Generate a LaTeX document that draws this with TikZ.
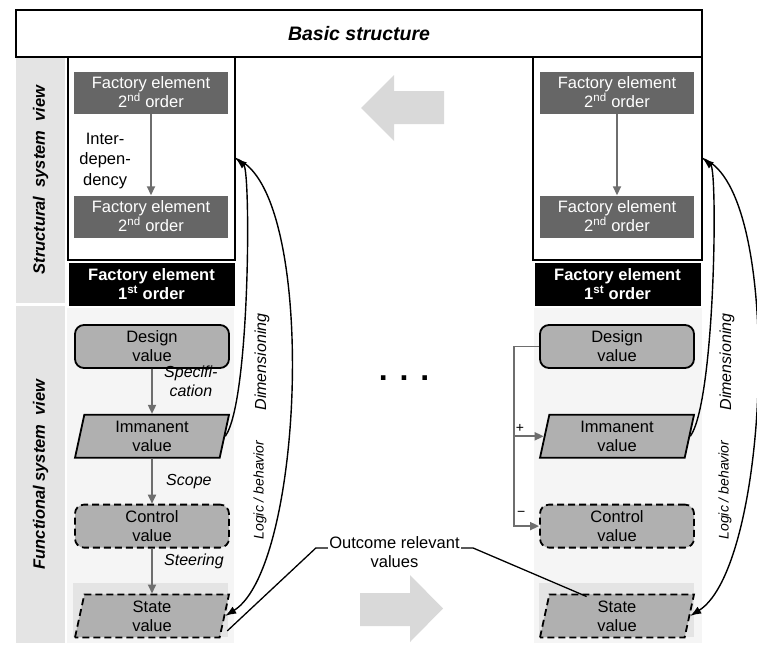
\documentclass[tikz,border=0pt]{standalone}
\usepackage{fontspec}
\setmainfont{Liberation Sans}
\usepackage{tikz}
\usetikzlibrary{arrows.meta,positioning,calc,shapes.geometric}
\definecolor{BandGray}{HTML}{E4E4E4}
\definecolor{StripGray}{HTML}{F5F5F5}
\definecolor{FocusGray}{HTML}{E4E4E4}
\definecolor{ElemGray}{HTML}{666666}
\definecolor{ValueGray}{HTML}{B0B0B0}
\definecolor{LinkGray}{HTML}{6E6E6E}
\definecolor{ArrowGray}{HTML}{D9D9D9}

\begin{document}
\begin{tikzpicture}[x=1pt,y=-1pt,node distance=45pt,
  every node/.style={font=\fontsize{16.5}{19}\selectfont},
  band/.style={fill=BandGray,rotate=90,font=\fontsize{16.5}{20}\selectfont\bfseries\itshape},
  elemtwo/.style={fill=ElemGray,text=white,minimum width=154pt,minimum height=42pt,align=center,inner sep=1pt},
  elemone/.style={fill=black,text=white,minimum width=166pt,minimum height=43pt,align=center,inner sep=1pt,
    font=\fontsize{16.5}{19}\selectfont\bfseries},
  sysframe/.style={draw,line width=1.5pt,fill=white},
  valuebox/.style={draw,line width=1.8pt,fill=ValueGray,minimum width=154pt,minimum height=43pt,align=center,inner sep=1pt},
  closedval/.style={valuebox,rounded corners=9pt},
  slanted/.style={valuebox,trapezium,trapezium left angle=74,trapezium right angle=106,trapezium stretches body},
  openval/.style={dash pattern=on 7pt off 4pt},
  dep/.style={draw=LinkGray,line width=1.7pt,-{Triangle[length=9pt,width=8pt]}},
  relation/.style={line width=1.4pt,-{Latex[length=11pt,width=8pt]}},
  flowtag/.style={font=\fontsize{16}{18.5}\selectfont\itshape,align=center},
  pointer/.style={line width=1.3pt},
  bigarrow/.style={fill=ArrowGray}]
\useasboundingbox (0,0) rectangle (757,645);

% view bands and column backgrounds
\node[band,minimum width=246pt,minimum height=49pt] (structview) at (40.5,180) {Structural\ \ system\ \ view};
\node[band,minimum width=337pt,minimum height=49pt] (funcview) at (40.5,474.5) {Functional system\ \ view};
\fill[StripGray] (67,308) rectangle (234,643);
\fill[StripGray] (534,308) rectangle (702,643);
\fill[FocusGray] (73,583) rectangle (228,637);
\fill[FocusGray] (539,583) rectangle (694,637);

\node[draw,line width=1.5pt,minimum width=686pt,minimum height=47pt,
      font=\fontsize{19.5}{21}\selectfont\bfseries\itshape] (basic) at (359,33.5) {Basic structure};

% left column
\node[sysframe,minimum width=167pt,minimum height=203pt] (sbL) at (151.5,158.5) {};
\node[elemtwo] (feaL) at (151,92.5) {Factory element\\2\textsuperscript{nd} order};
\node[elemtwo] (febL) at (151,216.5) {Factory element\\2\textsuperscript{nd} order};
\node[elemone] (foL) at (151.5,284.5) {Factory element\\1\textsuperscript{st} order};
\node[closedval] (dvL) at (152,346.5) {Design\\value};
\node[slanted,below=of dvL] (imL) {Immanent\\value};
\node[closedval,openval,below=of imL] (ctL) {Control\\value};
\node[slanted,openval,below=of ctL] (stL) {State\\value};

\draw[dep] (feaL) -- node[pos=0.58,left=16pt,align=center,font=\fontsize{16.5}{20.5}\selectfont] {Inter-\\depen-\\dency} (febL);
\draw[dep] (dvL) -- node[pos=0.28,right=8pt,flowtag] {Specifi-\\cation} (imL);
\draw[dep] (imL) -- node[right=10pt,flowtag] {Scope} (ctL);
\draw[dep] (ctL) -- node[pos=0.28,right=8pt,flowtag] {Steering} (stL);

\draw[relation] (imL.east) .. controls +(25,-35) and +(15,12) .. (sbL.east);
\draw[relation] (sbL.east) .. controls +(82,30) and +(80,-50) .. (stL.east);
\node[flowtag,rotate=90] (dimL) at (262,362) {Dimensioning};
\node[flowtag,rotate=90,font=\fontsize{14}{16}\selectfont\itshape] (logL) at (260,490) {Logic / behavior};

% right column
\node[sysframe,minimum width=169pt,minimum height=203pt] (sbR) at (617.5,158.5) {};
\node[elemtwo] (feaR) at (617,92.5) {Factory element\\2\textsuperscript{nd} order};
\node[elemtwo] (febR) at (617,216.5) {Factory element\\2\textsuperscript{nd} order};
\node[elemone] (foR) at (617.5,284.5) {Factory element\\1\textsuperscript{st} order};
\node[closedval] (dvR) at (617,346.5) {Design\\value};
\node[slanted,below=of dvR] (imR) {Immanent\\value};
\node[closedval,openval,below=of imR] (ctR) {Control\\value};
\node[slanted,openval,below=of ctR] (stR) {State\\value};

\draw[dep] (feaR) -- (febR);
\draw[dep] (dvR.west) -- ++(-25,0) coordinate (fbR) |- (ctR.west);
\draw[dep] (fbR |- imR.west) -- node[pos=0.2,above,font=\fontsize{14}{16}\selectfont] {+} (imR.west);
\node[font=\fontsize{14}{16}\selectfont] (minus) at ($(fbR |- ctR.west)+(7,-12)$) {−};

\draw[relation] (imR.east) .. controls +(25,-35) and +(15,12) .. (sbR.east);
\draw[relation] (sbR.east) .. controls +(82,30) and +(80,-50) .. (stR.east);
\node[flowtag,rotate=90] (dimR) at (727,362) {Dimensioning};
\node[flowtag,rotate=90,font=\fontsize{14}{16}\selectfont\itshape] (logR) at (725,490) {Logic / behavior};

% middle
\fill[bigarrow] (444,91) -- (394,91) -- (394,75) -- (361,108) -- (394,141) -- (394,124) -- (444,124) -- cycle;
\fill[bigarrow] (360,593) -- (410,593) -- (410,575) -- (443,608.5) -- (410,642) -- (410,626) -- (360,626) -- cycle;
\node[font=\fontsize{32}{32}\selectfont\bfseries,anchor=base] (dots) at (404,380) {. . .};

\node[align=center] (outc) at (394.5,552.5) {Outcome relevant\\values};
\draw[pointer] ($(outc.west)+(2,-4.5)$) -- ++(-12,0) -- ($(stL.east)+(2,15)$);
\draw[pointer] ($(outc.east)+(-2,-4.5)$) -- ++(12,0) -- ([xshift=-8pt,yshift=-3pt]stR.north west);
\end{tikzpicture}
\end{document}
